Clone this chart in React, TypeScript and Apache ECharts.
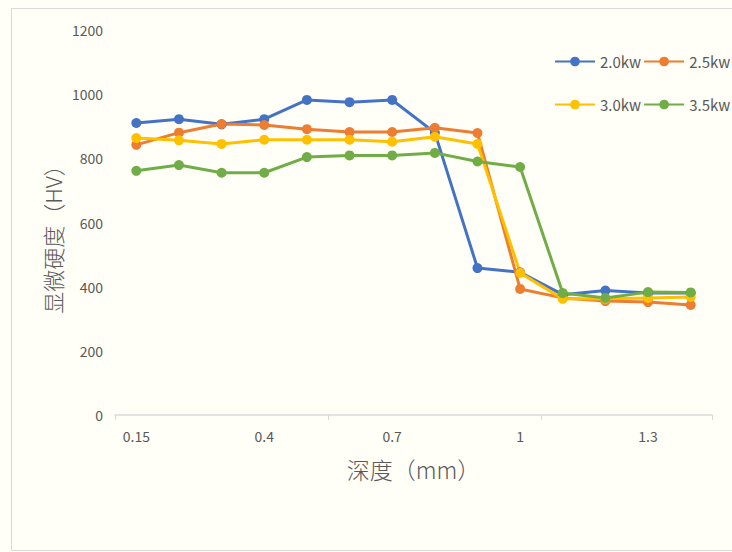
import React, { useEffect, useRef } from "react";
import * as echarts from "echarts";

const depths = ["0.15", "0.2", "0.3", "0.4", "0.5", "0.6", "0.7", "0.8", "0.9", "1", "1.1", "1.2", "1.3", "1.4"];
const seriesNames = ["2.0kw", "2.5kw", "3.0kw", "3.5kw"];
const hv20 = [910, 922, 906, 922, 982, 975, 982, 880, 458, 445, 375, 388, 380, 380];
const hv25 = [842, 880, 907, 904, 891, 882, 882, 895, 879, 393, 365, 355, 352, 343];
const hv30 = [863, 856, 845, 858, 858, 858, 852, 867, 845, 443, 362, 362, 365, 368];
const hv35 = [761, 779, 755, 755, 804, 809, 809, 817, 790, 773, 380, 365, 383, 382];
const colors = ["#4472C4", "#ED7D31", "#FFC000", "#70AD47"];
const xName = "深度（mm）";
const yName = "显微硬度（HV）";

const FONT = "'Noto Sans CJK SC', 'Noto Sans', sans-serif";

export default function App() {
  const ref = useRef<HTMLDivElement>(null);
  useEffect(() => {
    document.body.style.margin = "0";
    document.body.style.background = "#FFFFF7";
    const chart = echarts.init(ref.current!, null, { renderer: "svg" });
    const values = [hv20, hv25, hv30, hv35];
    const legendText = { color: "#595959", fontSize: 15, fontFamily: FONT };
    const legendBase = {
      orient: "horizontal",
      left: 554,
      width: 178,
      padding: 0,
      itemWidth: 40,
      itemHeight: 12,
      itemGap: 2,
      textStyle: legendText,
    };
    chart.setOption({
      animation: false,
      backgroundColor: "#FFFFF7",
      textStyle: { fontFamily: FONT },
      graphic: [
        {
          type: "rect",
          shape: { x: 11.5, y: 8.5, width: 740, height: 542 },
          style: { fill: "none", stroke: "#D9D9D9", lineWidth: 1 },
          silent: true,
        },
        {
          type: "text",
          x: 52,
          y: 234,
          rotation: Math.PI / 2,
          style: {
            text: yName,
            fontSize: 22,
            fontWeight: 300,
            fill: "#595959",
            fontFamily: FONT,
            align: "center",
            verticalAlign: "middle",
          },
          silent: true,
        },
      ],
      legend: [
        { ...legendBase, data: seriesNames.slice(0, 2), top: 54 },
        { ...legendBase, data: seriesNames.slice(2, 4), top: 97 },
      ],
      grid: { left: 115, right: 20, top: 30, bottom: 137, containLabel: false },
      xAxis: {
        type: "category",
        data: depths,
        boundaryGap: true,
        name: xName,
        nameLocation: "middle",
        nameGap: 42,
        nameTextStyle: { fontSize: 23, fontWeight: 300, color: "#595959", fontFamily: FONT },
        axisLine: { show: true, lineStyle: { color: "#D9D9D9", width: 1.5 } },
        axisTick: { show: true, interval: 4, length: 5, lineStyle: { color: "#D9D9D9" } },
        axisLabel: { interval: 2, color: "#595959", fontSize: 14, margin: 14, fontFamily: FONT },
        splitLine: { show: false },
      },
      yAxis: {
        type: "value",
        min: 0,
        max: 1200,
        interval: 200,
        axisLine: { show: false },
        axisTick: { show: false },
        axisLabel: {
          color: "#595959",
          fontSize: 14,
          margin: 12,
          fontFamily: FONT,
          formatter: (v: number) => String(v),
        },
        splitLine: { show: false },
      },
      series: seriesNames.map((name, i) => ({
        name,
        type: "line",
        data: values[i],
        symbol: "circle",
        symbolSize: 10,
        color: colors[i],
        lineStyle: { width: 3, color: colors[i] },
        itemStyle: { color: colors[i] },
      })),
    });
    return () => chart.dispose();
  }, []);
  return (
    <div style={{ width: 732, height: 552, background: "#FFFFF7" }}>
      <div ref={ref} style={{ width: 732, height: 552 }} />
    </div>
  );
}
